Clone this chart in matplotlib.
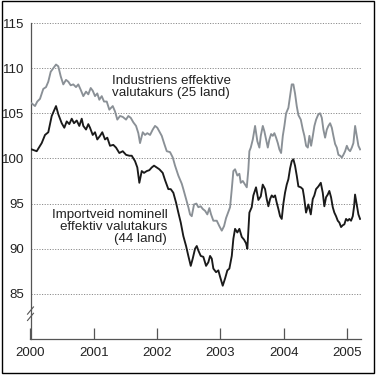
import matplotlib
matplotlib.use("Agg")
import matplotlib.pyplot as plt
from matplotlib.patches import Rectangle

plt.rcParams['font.family'] = ['Liberation Sans', 'DejaVu Sans']

# Importveid nominell effektiv valutakurs (44 land), decimal years since 2000
t_import = [0.019, 0.098, 0.177, 0.229, 0.281, 0.335, 0.403, 0.439, 0.493, 0.534,
            0.572, 0.613, 0.651, 0.687, 0.730, 0.771, 0.809, 0.834, 0.877, 0.913,
            0.940, 0.983, 1.019, 1.055, 1.098, 1.134, 1.177, 1.213, 1.256, 1.308,
            1.351, 1.403, 1.457, 1.509, 1.561, 1.599, 1.651, 1.687, 1.719, 1.757,
            1.793, 1.836, 1.877, 1.915, 1.951, 1.994, 2.035, 2.088, 2.125, 2.177,
            2.215, 2.256, 2.299, 2.335, 2.373, 2.414, 2.457, 2.493, 2.531, 2.562,
            2.599, 2.626, 2.651, 2.689, 2.730, 2.773, 2.809, 2.836, 2.863, 2.888,
            2.931, 2.967, 2.994, 3.036, 3.073, 3.109, 3.141, 3.179, 3.204, 3.231,
            3.267, 3.299, 3.337, 3.373, 3.404, 3.425, 3.457, 3.494, 3.520, 3.562,
            3.599, 3.637, 3.668, 3.705, 3.731, 3.757, 3.784, 3.810, 3.836, 3.863,
            3.889, 3.915, 3.942, 3.968, 3.994, 4.020, 4.047, 4.073, 4.100, 4.126,
            4.152, 4.178, 4.205, 4.231, 4.269, 4.300, 4.321, 4.352, 4.389, 4.427,
            4.458, 4.483, 4.510, 4.547, 4.585, 4.616, 4.641, 4.668, 4.695, 4.720,
            4.747, 4.774, 4.799, 4.826, 4.853, 4.878, 4.905, 4.932, 4.957, 4.984,
            5.011, 5.036, 5.063, 5.090, 5.111, 5.126, 5.153, 5.179, 5.205]
import_vals = [101.0, 100.8, 101.7, 102.6, 102.9, 104.7, 105.8, 104.9, 103.9, 103.4,
               104.1, 103.8, 104.4, 103.9, 104.2, 103.6, 104.4, 103.6, 103.2, 103.8,
               103.4, 102.6, 102.9, 102.1, 102.5, 102.9, 102.1, 102.3, 101.4, 101.5,
               101.2, 100.6, 100.8, 100.4, 100.3, 100.3, 99.7, 99.0, 97.3, 98.6,
               98.4, 98.6, 98.7, 99.0, 99.2, 99.0, 98.8, 98.4, 97.6, 96.6,
               96.6, 96.2, 95.1, 94.0, 92.9, 91.4, 90.3, 89.2, 88.1, 88.9,
               90.0, 90.3, 89.8, 89.2, 89.1, 88.1, 88.5, 89.2, 88.9, 87.8,
               87.4, 87.6, 86.9, 85.9, 86.7, 87.6, 87.8, 89.2, 91.1, 92.2,
               91.8, 92.2, 91.3, 91.0, 90.6, 90.0, 94.0, 94.6, 95.9, 96.8,
               95.4, 95.8, 97.1, 96.6, 95.5, 94.7, 95.5, 95.9, 95.7, 95.9,
               95.1, 94.4, 93.6, 93.3, 95.0, 96.2, 97.1, 97.7, 98.9, 99.7,
               99.9, 99.2, 98.1, 96.9, 96.8, 96.6, 95.7, 94.0, 94.9, 93.8,
               95.5, 95.9, 96.6, 96.9, 97.3, 96.2, 94.7, 95.7, 96.0, 96.4,
               95.7, 94.6, 94.0, 93.6, 93.1, 92.9, 92.4, 92.6, 92.7, 93.3,
               93.1, 93.3, 93.1, 93.6, 94.7, 96.0, 94.9, 93.8, 93.3]

# Industriens effektive valutakurs (25 land)
t_ind = [0.019, 0.071, 0.107, 0.150, 0.202, 0.245, 0.281, 0.319, 0.360, 0.403,
         0.439, 0.477, 0.518, 0.561, 0.597, 0.635, 0.676, 0.719, 0.755, 0.793,
         0.834, 0.877, 0.913, 0.951, 0.983, 1.019, 1.055, 1.087, 1.125, 1.161,
         1.204, 1.245, 1.299, 1.335, 1.371, 1.414, 1.457, 1.509, 1.545, 1.583,
         1.624, 1.667, 1.703, 1.730, 1.773, 1.809, 1.845, 1.888, 1.931, 1.967,
         2.003, 2.035, 2.073, 2.109, 2.152, 2.204, 2.247, 2.283, 2.335, 2.389,
         2.414, 2.457, 2.493, 2.520, 2.547, 2.583, 2.620, 2.651, 2.689, 2.721,
         2.757, 2.793, 2.825, 2.852, 2.888, 2.942, 2.983, 3.021, 3.057, 3.089,
         3.125, 3.152, 3.179, 3.204, 3.231, 3.267, 3.299, 3.321, 3.353, 3.389,
         3.416, 3.441, 3.457, 3.479, 3.511, 3.547, 3.583, 3.615, 3.637, 3.669,
         3.694, 3.721, 3.748, 3.773, 3.800, 3.827, 3.852, 3.879, 3.906, 3.931,
         3.958, 3.985, 4.010, 4.037, 4.073, 4.100, 4.126, 4.152, 4.178, 4.205,
         4.231, 4.269, 4.301, 4.326, 4.353, 4.380, 4.405, 4.432, 4.459, 4.484,
         4.511, 4.547, 4.574, 4.601, 4.626, 4.653, 4.680, 4.705, 4.732, 4.759,
         4.784, 4.811, 4.838, 4.863, 4.890, 4.917, 4.942, 4.969, 4.996, 5.021,
         5.048, 5.075, 5.100, 5.127, 5.153, 5.179, 5.206]
ind_vals = [106.1, 105.8, 106.3, 106.6, 107.7, 107.9, 108.5, 109.6, 110.0, 110.4,
            110.2, 109.1, 108.2, 108.7, 108.5, 108.1, 108.2, 107.9, 108.2, 107.6,
            106.9, 107.4, 107.1, 107.8, 107.5, 106.9, 107.2, 106.5, 106.9, 106.3,
            106.3, 105.4, 105.8, 105.2, 104.3, 104.7, 104.6, 104.3, 104.7, 104.5,
            104.0, 103.6, 102.8, 101.7, 102.9, 102.6, 102.8, 102.6, 103.2, 103.6,
            103.4, 103.0, 102.5, 101.7, 100.8, 100.7, 100.1, 99.2, 98.1, 97.2,
            96.6, 95.5, 94.6, 93.8, 93.6, 94.9, 95.0, 94.6, 94.7, 94.4,
            94.2, 93.8, 94.5, 93.8, 93.1, 93.1, 92.5, 92.0, 92.5, 93.4,
            94.1, 94.6, 96.6, 98.6, 98.8, 98.1, 98.3, 97.3, 97.5, 97.1,
            96.8, 98.8, 100.8, 101.2, 102.1, 103.6, 101.9, 101.2, 102.5, 103.6,
            103.0, 102.1, 101.2, 102.1, 102.7, 102.5, 102.8, 102.3, 101.7, 101.0,
            100.6, 102.5, 103.6, 105.0, 105.6, 106.9, 108.2, 108.2, 107.2, 105.8,
            104.8, 104.3, 103.2, 102.5, 101.4, 101.2, 102.5, 101.4, 102.5, 103.6,
            104.3, 104.9, 105.0, 104.5, 103.2, 102.3, 103.2, 103.6, 103.9, 103.4,
            102.5, 101.6, 101.2, 100.4, 100.3, 100.1, 100.4, 100.8, 101.4, 101.0,
            100.8, 101.2, 101.7, 103.6, 102.5, 101.4, 101.0]

years = [2000, 2001, 2002, 2003, 2004, 2005]
yticks = [85, 90, 95, 100, 105, 110, 115]

W, H = 381, 375
fig = plt.figure(figsize=(W / 100, H / 100), dpi=100)
ax = fig.add_axes([30.5 / W, 1 - 339 / H, (361 - 30.5) / W, (339 - 23) / H])

x_imp = [2000 + t for t in t_import]
x_ind = [2000 + t for t in t_ind]
ax.plot(x_ind, ind_vals, color='#8a9096', lw=1.35, zorder=3)
ax.plot(x_imp, import_vals, color='#1a1a1a', lw=1.35, zorder=4)

ax.set_xlim(2000, 2005.22)
ax.set_ylim(80, 115)
ax.set_xticks(years)
ax.set_xticklabels([str(y) for y in years])
ax.set_yticks(yticks)
ax.set_yticklabels([str(y) for y in yticks])

for v in yticks:
    ax.axhline(v, color='#8c8c8c', lw=0.7, ls=(0, (1.2, 1.5)), zorder=1)

for s in ['top', 'right']:
    ax.spines[s].set_visible(False)
for s in ['left', 'bottom']:
    ax.spines[s].set_color('#555555')
    ax.spines[s].set_linewidth(0.9)

ax.tick_params(axis='x', direction='in', length=8, width=0.9, color='#555555',
               pad=6, labelsize=9.5, labelcolor='#222222')
ax.tick_params(axis='y', length=0, pad=4.5, labelsize=9.5, labelcolor='#222222')

# axis break mark
tr = ax.get_yaxis_transform()
for dy in (-0.35, 0.35):
    ax.plot([-0.009, 0.009], [82.4 + dy, 83.2 + dy], transform=tr,
            color='#555555', lw=0.8, clip_on=False, zorder=5)

ax.text(2001.28, 107.95, 'Industriens effektive\nvalutakurs (25 land)',
        ha='left', va='center', fontsize=9.6, color='#222222', linespacing=1.0)
ax.text(2002.16, 92.4, 'Importveid nominell\neffektiv valutakurs\n(44 land)',
        ha='right', va='center', fontsize=9.6, color='#222222', linespacing=1.0)

fig.patches.append(Rectangle((2 / W, 1 - 373 / H), 372 / W, 372 / H,
                             transform=fig.transFigure, fill=False,
                             edgecolor='black', lw=1.0))

fig.savefig('out.png', dpi=100)
